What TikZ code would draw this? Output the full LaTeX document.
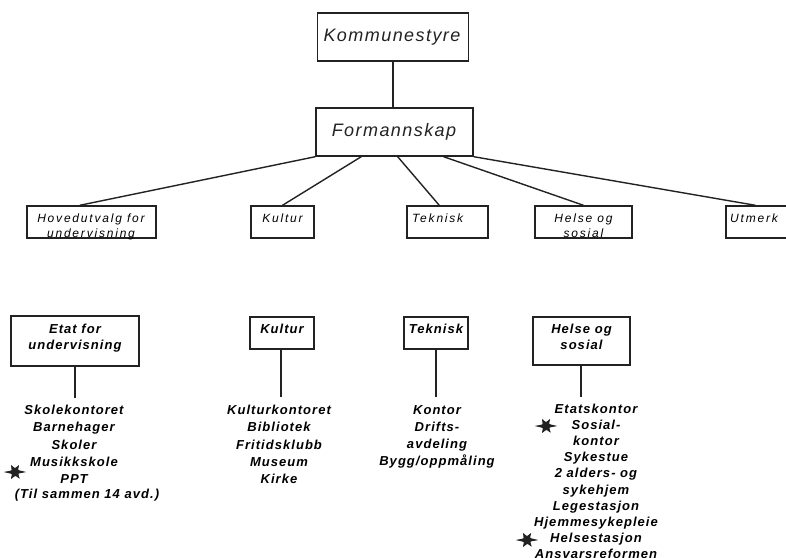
\documentclass[tikz,border=0pt]{standalone}
\usepackage{fontspec}
\setmainfont{Liberation Sans}
\newfontfamily\topfont[LetterSpace=8]{Liberation Sans}
\newfontfamily\midfont[LetterSpace=15]{Liberation Sans}
\newfontfamily\listfont[LetterSpace=8]{Liberation Sans}
\usetikzlibrary{calc}
\definecolor{ink}{HTML}{222222}
\tikzset{
  box/.style={draw=ink, line width=1.4pt, inner sep=0pt},
  conn/.style={draw=ink, line width=1.4pt},
  toptext/.style={font=\topfont\itshape\fontsize{18}{20}\selectfont, text=ink, inner sep=0pt},
  midtext/.style={font=\midfont\itshape\fontsize{12}{15}\selectfont, text=black, inner sep=0pt, align=center},
  listtext/.style={font=\listfont\bfseries\itshape\fontsize{13}{17.2}\selectfont, text=black, inner sep=0pt, align=center},
  starblot/.pic={
    \fill[ink] plot[smooth cycle, tension=0.35] coordinates {
      (0:11) (25:4) (55:8) (85:4) (120:8) (150:4) (180:11) (205:4) (240:8) (270:4) (300:8) (330:4)};
  }
}
\begin{document}
\begin{tikzpicture}[x=1pt,y=-1pt]
\useasboundingbox (0,0) rectangle (786,557);
\clip (0,0) rectangle (786,557);
% top
\node[box, minimum width=151, minimum height=48] (kom) at (393,37) {};
\node[toptext] (komt) at (392,37) {Kommunestyre};
\node[box, minimum width=157, minimum height=48] (form) at (394.5,132) {};
\node[toptext] (formt) at (394,132) {Formannskap};
\draw[conn] (kom.south) -- (form.north -| kom.south);
% second row
\node[box, minimum width=129, minimum height=32] (hov) at (91.5,222) {};
\node[box, minimum width=63, minimum height=32] (kul1) at (282.5,222) {};
\node[box, minimum width=81, minimum height=32] (tek1) at (447.5,222) {};
\node[box, minimum width=97, minimum height=32] (hel1) at (583.5,222) {};
\node[box, minimum width=80, minimum height=32] (utm) at (766,222) {};
\node[midtext, anchor=north] (hovt) at (91,213.5) {Hovedutvalg for\\undervisning};
\node[midtext] (kul1t) at (282.5,218) {Kultur};
\node[midtext, anchor=west] (tek1t) at (412,218) {Teknisk};
\node[midtext, anchor=north] (hel1t) at (583.5,213.5) {Helse og\\sosial};
\node[midtext, anchor=west] (utmt) at (730,218) {Utmerk};
\draw[conn] (form.south west) -- ($(hov.north west)!0.41!(hov.north east)$);
\draw[conn] ($(form.south west)!0.29!(form.south east)$) -- (kul1.north);
\draw[conn] ($(form.south west)!0.52!(form.south east)$) -- ($(tek1.north west)!0.40!(tek1.north east)$);
\draw[conn] ($(form.south west)!0.81!(form.south east)$) -- (hel1.north);
\draw[conn] (form.south east) -- ($(utm.north west)!0.37!(utm.north east)$);
% third row boxes
\node[box, minimum width=128, minimum height=50] (etat) at (75,341) {};
\node[listtext, anchor=north] (etatt) at (75,324) {Etat for\\[-1.4pt]undervisning};
\node[box, minimum width=64, minimum height=32] (kul2) at (282,333) {};
\node[listtext] (kul2t) at (282,329) {Kultur};
\node[box, minimum width=64, minimum height=32] (tek2) at (436,333) {};
\node[listtext] (tek2t) at (436,329) {Teknisk};
\node[box, minimum width=97, minimum height=48] (hel2) at (581.5,341) {};
\node[listtext, anchor=north] (hel2t) at (581.5,324) {Helse og\\[-1.4pt]sosial};
% lists
\node[listtext, anchor=north] (etatl) at (74,405) {Skolekontoret\\Barnehager\\Skoler\\Musikkskole\\PPT};
\node[listtext] (etatl2) at (87,495) {(Til sammen 14 avd.)};
\node[listtext, anchor=north] (kull) at (279,405) {Kulturkontoret\\Bibliotek\\Fritidsklubb\\Museum\\Kirke};
\node[listtext, anchor=north] (tekl) at (437,405) {Kontor\\Drifts-\\avdeling\\Bygg/oppmåling};
\node[listtext, anchor=north, font=\listfont\bfseries\itshape\fontsize{13}{16.2}\selectfont] (hell) at (596,403.5) {Etatskontor\\Sosial-\\kontor\\Sykestue\\2 alders- og\\sykehjem\\Legestasjon\\Hjemmesykepleie\\Helsestasjon\\Ansvarsreformen};
\coordinate (etatend) at (75,398);
\coordinate (kulend) at (281,397);
\coordinate (tekend) at (436,397);
\coordinate (helend) at (581,397);
\draw[conn] (etat.south) -- (etatend);
\draw[conn] (kul2.south -| kulend) -- (kulend);
\draw[conn] (tek2.south) -- (tekend);
\draw[conn] (hel2.south -| helend) -- (helend);
% asterisks
\pic at (15,472) {starblot};
\pic at (546,426) {starblot};
\pic at (527,540) {starblot};
\end{tikzpicture}
\end{document}
